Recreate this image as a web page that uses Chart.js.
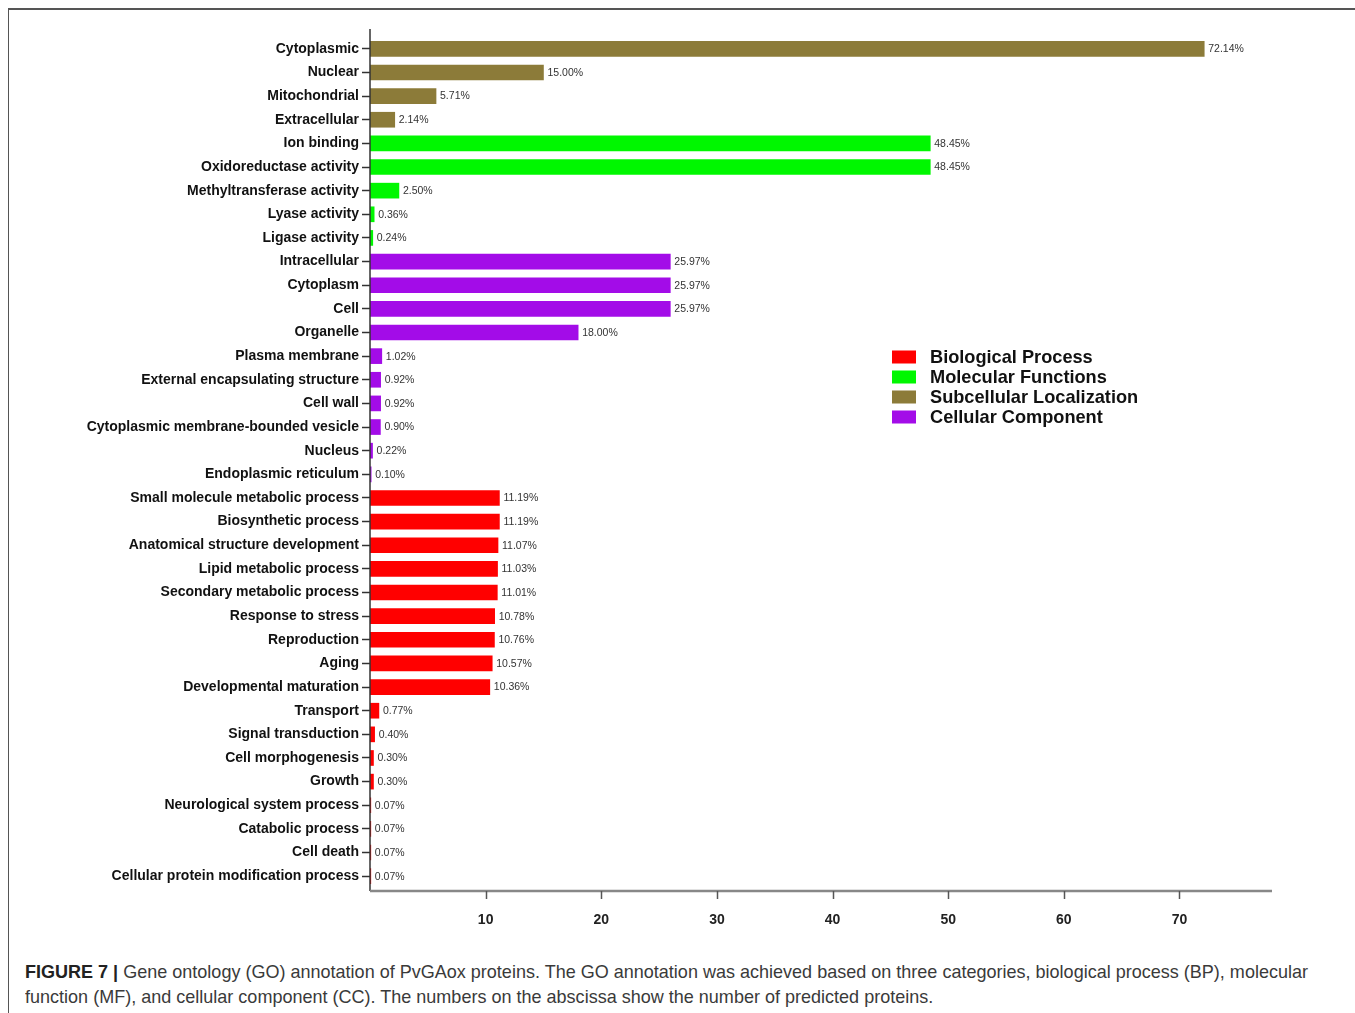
<!DOCTYPE html>
<html>
<head>
<meta charset="utf-8">
<script src="https://cdn.jsdelivr.net/npm/chart.js@4.4.1/dist/chart.umd.min.js"></script>
<style>
  html, body { margin: 0; padding: 0; background: #fff; }
  #wrap { position: relative; width: 1355px; height: 1013px; overflow: hidden; }
  #frame { position: absolute; left: 8px; top: 8px; right: -4px; bottom: -4px;
           border-top: 2px solid #555; border-left: 1.5px solid #555; }
  #chart { position: absolute; left: 0; top: 0; }
  #caption { position: absolute; left: 25px; top: 959px;
             font-family: "Liberation Sans Narrow", "Liberation Sans", Arial, sans-serif;
             font-size: 19px; line-height: 25px; color: #3a3a3a; white-space: nowrap;
             transform-origin: 0 0; }
  #caption span { display: inline-block; }
  #caption b { color: #222; }
</style>
</head>
<body>
<div id="wrap">
  <div id="frame"></div>
  <canvas id="chart" width="1355" height="945"></canvas>
  <div id="caption"><span id="capLine"><b>FIGURE 7 |</b> Gene ontology (GO) annotation of PvGAox proteins. The GO annotation was achieved based on three categories, biological process (BP), molecular</span><br><span>function (MF), and cellular component (CC). The numbers on the abscissa show the number of predicted proteins.</span></div>
</div>
<script>
// GO terms, top to bottom, grouped by category
const subcellularTerms = ['Cytoplasmic', 'Nuclear', 'Mitochondrial', 'Extracellular']
const subcellularValues = [72.14, 15.00, 5.71, 2.14]

const molecularTerms = ['Ion binding', 'Oxidoreductase activity', 'Methyltransferase activity', 'Lyase activity', 'Ligase activity']
const molecularValues = [48.45, 48.45, 2.50, 0.36, 0.24]

const cellularTerms = ['Intracellular', 'Cytoplasm', 'Cell', 'Organelle', 'Plasma membrane',
  'External encapsulating structure', 'Cell wall', 'Cytoplasmic membrane-bounded vesicle',
  'Nucleus', 'Endoplasmic reticulum']
const cellularValues = [25.97, 25.97, 25.97, 18.00, 1.02, 0.92, 0.92, 0.90, 0.22, 0.10]

const biologicalTerms = ['Small molecule metabolic process', 'Biosynthetic process',
  'Anatomical structure development', 'Lipid metabolic process', 'Secondary metabolic process',
  'Response to stress', 'Reproduction', 'Aging', 'Developmental maturation', 'Transport',
  'Signal transduction', 'Cell morphogenesis', 'Growth', 'Neurological system process',
  'Catabolic process', 'Cell death', 'Cellular protein modification process']
const biologicalValues = [11.19, 11.19, 11.07, 11.03, 11.01, 10.78, 10.76, 10.57, 10.36,
  0.77, 0.40, 0.30, 0.30, 0.07, 0.07, 0.07, 0.07]

const xTicks = [10, 20, 30, 40, 50, 60, 70]

const legendLabels = ['Biological Process', 'Molecular Functions', 'Subcellular Localization', 'Cellular Component']

const COLORS = {
  bp: '#ff0000',
  mf: '#00f700',
  sl: '#8c7b39',
  cc: '#a30ce8'
}
const legendColors = [COLORS.bp, COLORS.mf, COLORS.sl, COLORS.cc]

const labels = [...subcellularTerms, ...molecularTerms, ...cellularTerms, ...biologicalTerms]
const values = [...subcellularValues, ...molecularValues, ...cellularValues, ...biologicalValues]
const barColors = [
  ...subcellularTerms.map(() => COLORS.sl),
  ...molecularTerms.map(() => COLORS.mf),
  ...cellularTerms.map(() => COLORS.cc),
  ...biologicalTerms.map(() => COLORS.bp)
]

const SANS = '"Liberation Sans", Arial, Helvetica, sans-serif'

// squeeze the caption so its first line fits the figure width
const cap = document.getElementById('caption')
const capWidth = document.getElementById('capLine').getBoundingClientRect().width
cap.style.transform = 'scaleX(' + (1283 / capWidth) + ')'

// axis lines and x tick marks sit a little outside the plot area
const axisLines = {
  id: 'axisLines',
  afterDraw(chart) {
    const { ctx, chartArea, scales } = chart
    const x0 = scales.x.getPixelForValue(0)
    const yBase = chartArea.bottom + 3

    ctx.save()
    ctx.strokeStyle = '#333'
    ctx.lineWidth = 1.5
    ctx.beginPath()
    ctx.moveTo(x0, chartArea.top - 8)
    ctx.lineTo(x0, yBase)
    ctx.stroke()

    ctx.strokeStyle = '#888'
    ctx.lineWidth = 2.5
    ctx.beginPath()
    ctx.moveTo(x0, yBase)
    ctx.lineTo(chartArea.right, yBase)
    ctx.stroke()

    ctx.strokeStyle = '#555'
    ctx.lineWidth = 1.5
    xTicks.forEach(v => {
      const px = Math.round(scales.x.getPixelForValue(v)) + 0.5
      ctx.beginPath()
      ctx.moveTo(px, yBase)
      ctx.lineTo(px, yBase + 8)
      ctx.stroke()
    })
    ctx.restore()
  }
}

// percentage next to the end of each bar
const valueLabels = {
  id: 'valueLabels',
  afterDatasetsDraw(chart) {
    const { ctx } = chart
    const meta = chart.getDatasetMeta(0)
    ctx.save()
    ctx.font = '10.5px ' + SANS
    ctx.fillStyle = '#333'
    ctx.textAlign = 'left'
    ctx.textBaseline = 'middle'
    meta.data.forEach((bar, i) => {
      ctx.fillText(values[i].toFixed(2) + '%', bar.x + 4, bar.y + 0.5)
    })
    ctx.restore()
  }
}

const boxLegend = {
  id: 'boxLegend',
  afterDraw(chart, args, opts) {
    const { ctx } = chart
    ctx.save()
    ctx.font = 'bold 18.2px ' + SANS
    ctx.textBaseline = 'middle'
    ctx.textAlign = 'left'
    legendLabels.forEach((text, i) => {
      const y = opts.y + i * opts.rowHeight
      ctx.fillStyle = legendColors[i]
      ctx.fillRect(opts.x, y - 6.5, 24, 13)
      ctx.fillStyle = '#111'
      ctx.fillText(text, opts.x + 38, y + 1)
    })
    ctx.restore()
  }
}

new Chart(document.getElementById('chart').getContext('2d'), {
  type: 'bar',
  data: {
    labels: labels,
    datasets: [{
      data: values,
      backgroundColor: barColors,
      borderWidth: 0,
      barThickness: 15
    }]
  },
  options: {
    indexAxis: 'y',
    responsive: false,
    animation: false,
    devicePixelRatio: 1,
    layout: { padding: { top: 37, right: 83, left: 0, bottom: 0 } },
    plugins: {
      legend: { display: false },
      tooltip: { enabled: false },
      boxLegend: { x: 892, y: 357, rowHeight: 20 }
    },
    scales: {
      x: {
        min: 0,
        max: 78,
        afterFit: s => { s.height = 57 },
        afterBuildTicks: s => { s.ticks = xTicks.map(v => ({ value: v })) },
        grid: { display: false },
        border: { display: false },
        ticks: {
          padding: 16,
          color: '#222',
          font: { family: SANS, size: 14, weight: 'bold' }
        }
      },
      y: {
        afterFit: s => { s.width = 370 },
        grid: {
          offset: false,
          drawOnChartArea: false,
          tickLength: 8,
          tickWidth: 1.5,
          color: '#333'
        },
        border: { display: false },
        ticks: {
          padding: 3,
          autoSkip: false,
          color: '#111',
          font: { family: SANS, size: 14, weight: 'bold' }
        }
      }
    }
  },
  plugins: [axisLines, valueLabels, boxLegend]
})
</script>
</body>
</html>
